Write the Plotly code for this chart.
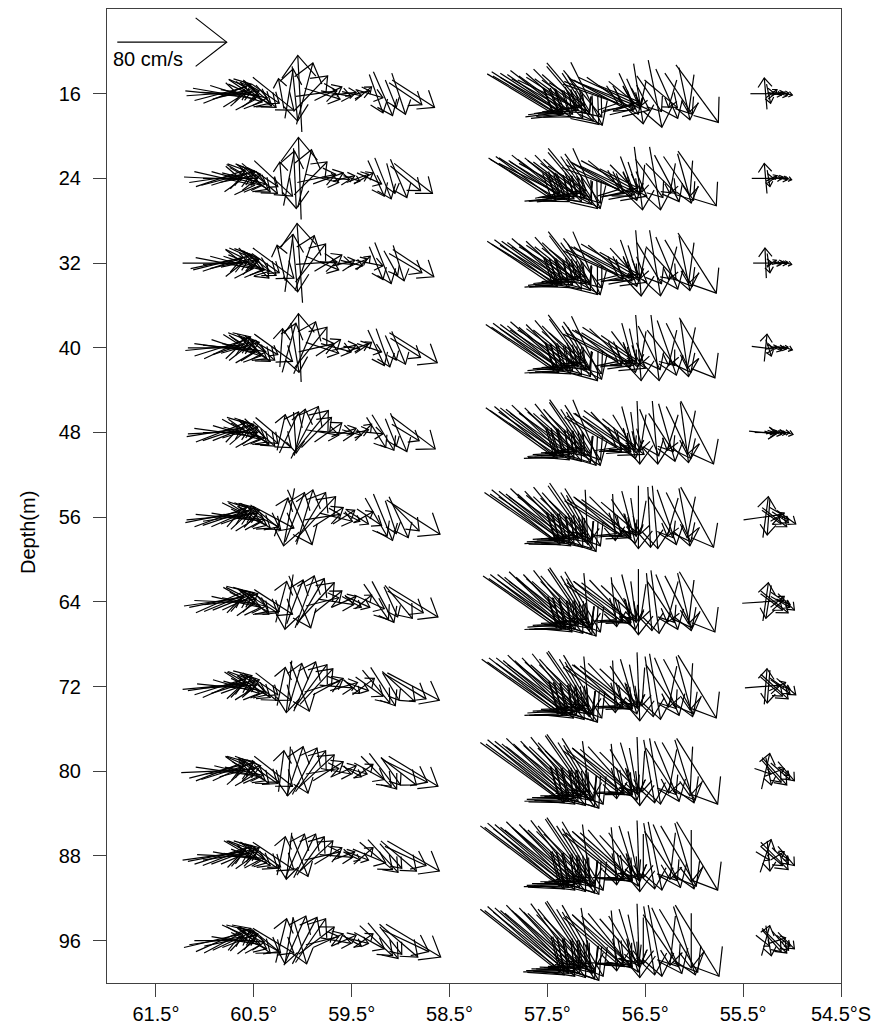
import math
import plotly.graph_objects as go

# Current vectors (u east-ward on the page, v up-ward; cm/s) along the transect
DEPTHS = [16, 24, 32, 40, 48, 56, 64, 72, 80, 88, 96]

LAT_WEST = [60.92, 60.88, 60.84, 60.80, 60.77, 60.74, 60.71, 60.68, 60.64, 60.60, 60.55, 60.50,
            60.44, 60.38, 60.30, 60.22, 60.14, 60.08, 60.03, 59.98, 59.92, 59.86, 59.80, 59.74,
            59.66, 59.58, 59.50, 59.44, 59.38, 59.32, 59.25, 59.18, 59.10, 59.02, 58.95, 58.87]
LAT_CENTRAL = [57.78, 57.75, 57.72, 57.69, 57.66, 57.63, 57.60, 57.57, 57.54, 57.51, 57.48, 57.45,
               57.42, 57.39, 57.36, 57.33, 57.30, 57.27, 57.24, 57.21, 57.18, 57.14, 57.10, 57.06,
               57.02, 56.98, 56.94, 56.90, 56.86, 56.82, 56.77, 56.72, 56.67, 56.62, 56.57, 56.52,
               56.46, 56.40, 56.34, 56.28, 56.22, 56.16, 56.10, 56.03, 55.97]
LAT_EAST = [55.30, 55.27, 55.24, 55.21, 55.18, 55.15, 55.12, 55.09, 55.06]

VEL_16 = [
    [40, -4], [44, 3], [38, 10], [46, -8], [35, 14], [42, -2], [30, 8], [38, -12], [28, 4], [34, -6], [30, -14], [26, -18],
    [24, -20], [20, -14], [30, -24], [-4, 22], [6, 36], [4, -40], [-3, 56], [12, 45], [25, 26], [30, 4], [26, -8], [20, 10],
    [22, -4], [18, 2], [14, -3], [18, 4], [12, 10], [20, -6], [10, -28], [14, -32], [8, -20], [10, -30], [24, -16], [31, -20],
    [48, -29], [44, -26], [50, -32], [42, -24], [46, -30], [40, -28], [38, -22], [44, -34], [36, -26], [42, -20], [34, -30], [38, -24],
    [30, -22], [36, -36], [28, -20], [32, -28], [26, -16], [34, -40], [38, -45], [20, -30], [16, -26], [28, -34], [23, -46], [40, -14],
    [44, -18], [36, -20], [48, -22], [40, -16], [34, -24], [52, -24], [30, -12], [22, -18], [14, -30], [10, -22], [7, -44], [-4, -18],
    [18, -26], [10, -49], [24, -20], [16, -36], [-6, -20], [20, -30], [8, -38], [-4, -28], [31, -42],
    [18, 0], [-2, 23], [3, -14], [8, 6], [10, -2], [9, 2], [10, -3], [8, 1], [9, -2],
]
VEL_24 = [
    [42, -2], [40, 6], [36, 12], [44, -10], [38, 10], [40, 0], [32, 10], [36, -10], [30, 6], [32, -8], [28, -16], [24, -20],
    [26, -22], [18, -12], [28, -26], [-2, 24], [8, 40], [2, -44], [-2, 60], [10, 42], [24, 24], [28, 6], [24, -6], [22, 8],
    [20, -2], [16, 4], [12, -4], [16, 6], [14, 8], [18, -8], [12, -26], [12, -30], [6, -22], [12, -28], [22, -18], [28, -22],
    [46, -30], [48, -28], [44, -32], [44, -22], [48, -30], [38, -26], [40, -24], [42, -34], [38, -28], [40, -22], [36, -30], [36, -26],
    [32, -24], [34, -34], [30, -22], [30, -28], [28, -18], [32, -38], [36, -44], [22, -32], [18, -28], [26, -36], [20, -44], [42, -16],
    [42, -20], [38, -22], [46, -24], [38, -18], [32, -26], [48, -26], [28, -14], [20, -20], [12, -32], [8, -24], [6, -46], [-2, -20],
    [20, -28], [8, -46], [22, -22], [18, -34], [-4, -22], [22, -32], [10, -36], [-2, -26], [28, -40],
    [16, 0], [-2, 22], [2, -12], [8, 4], [10, 0], [8, 2], [10, -2], [7, 0], [8, -2],
]
VEL_32 = [
    [44, 0], [38, 8], [40, 10], [42, -8], [36, 12], [40, 2], [34, 8], [38, -10], [28, 6], [30, -10], [30, -12], [22, -22],
    [24, -18], [20, -14], [30, -22], [-6, 26], [6, 42], [4, -42], [-4, 58], [14, 40], [22, 28], [30, 2], [24, -10], [20, 12],
    [24, -2], [16, 4], [16, -4], [14, 6], [10, 10], [20, -4], [10, -24], [12, -30], [10, -18], [8, -26], [24, -14], [30, -20],
    [48, -32], [46, -28], [46, -34], [42, -26], [44, -32], [40, -30], [38, -24], [42, -36], [36, -28], [40, -24], [34, -32], [38, -26],
    [30, -24], [34, -38], [28, -22], [32, -30], [26, -20], [30, -40], [36, -46], [22, -30], [16, -28], [28, -36], [20, -46], [40, -18],
    [42, -20], [36, -24], [46, -24], [38, -20], [32, -26], [48, -28], [28, -16], [20, -22], [12, -34], [8, -26], [4, -48], [-4, -22],
    [18, -30], [8, -48], [22, -24], [16, -38], [-6, -24], [20, -34], [8, -40], [-4, -30], [28, -44],
    [14, 0], [-1, 22], [2, -14], [7, 4], [9, -2], [8, 2], [9, -1], [7, 1], [8, -2],
]
VEL_40 = [
    [40, 4], [42, 0], [38, 12], [44, -6], [34, 16], [40, -4], [30, 10], [36, -12], [28, 8], [32, -6], [26, -16], [24, -20],
    [22, -18], [18, -10], [28, -20], [2, 28], [10, 36], [6, -36], [-2, 50], [16, 38], [24, 30], [26, 6], [24, -8], [18, 12],
    [22, -6], [18, 4], [12, -2], [16, 6], [12, 8], [18, -6], [12, -26], [10, -28], [8, -18], [10, -24], [22, -14], [35, -22],
    [50, -34], [46, -30], [48, -36], [42, -28], [46, -34], [40, -32], [40, -26], [44, -38], [36, -30], [42, -26], [34, -34], [38, -28],
    [32, -26], [34, -40], [28, -24], [32, -32], [26, -22], [30, -42], [36, -48], [20, -32], [16, -30], [28, -38], [22, -46], [40, -20],
    [42, -22], [34, -26], [44, -26], [36, -22], [30, -28], [46, -30], [26, -18], [18, -24], [10, -36], [6, -28], [4, -48], [-4, -24],
    [16, -32], [6, -48], [20, -26], [14, -40], [-6, -26], [18, -36], [6, -42], [-6, -30], [26, -44],
    [16, -2], [2, 20], [4, -12], [8, 2], [10, -4], [9, 0], [8, -2], [7, 1], [9, -3],
]
VEL_48 = [
    [38, 6], [42, 2], [36, 14], [44, -6], [36, 12], [40, 0], [30, 12], [34, -10], [26, 8], [30, -8], [26, -14], [22, -18],
    [22, -20], [18, -16], [26, -22], [6, 26], [14, 30], [2, -30], [8, 34], [20, 38], [26, 32], [22, 22], [24, -4], [20, 14],
    [26, -2], [18, 6], [14, -4], [16, 4], [12, 12], [20, -2], [14, -22], [16, -26], [8, -20], [12, -28], [20, -12], [32, -24],
    [50, -36], [48, -32], [46, -38], [44, -30], [46, -36], [42, -34], [40, -28], [42, -40], [38, -32], [40, -28], [36, -36], [36, -30],
    [32, -28], [34, -42], [30, -26], [30, -34], [26, -24], [30, -44], [34, -48], [22, -34], [18, -30], [26, -40], [20, -48], [38, -22],
    [40, -24], [34, -28], [42, -28], [34, -24], [28, -30], [44, -32], [24, -20], [16, -26], [10, -38], [4, -30], [2, -46], [-4, -26],
    [14, -34], [4, -46], [18, -28], [12, -42], [-8, -26], [18, -38], [6, -44], [-6, -32], [24, -46],
    [20, -2], [16, 0], [6, -2], [8, 2], [10, -3], [9, 1], [8, -2], [9, 0], [10, -3],
]
VEL_56 = [
    [40, 8], [44, 4], [38, 14], [42, -4], [36, 12], [40, 6], [32, 14], [36, -6], [28, 10], [30, -4], [26, -12], [24, -16],
    [28, -14], [22, -18], [30, -16], [10, 28], [-8, -42], [14, 36], [18, -40], [12, 40], [22, 36], [28, 30], [26, 4], [22, 14],
    [24, -6], [16, 10], [12, -6], [16, -10], [14, 8], [18, -12], [16, -28], [14, -34], [8, -24], [14, -30], [20, -20], [39, -25],
    [52, -36], [48, -34], [50, -40], [44, -30], [48, -38], [42, -34], [42, -30], [44, -42], [38, -34], [42, -30], [36, -38], [38, -32],
    [32, -30], [36, -44], [30, -28], [32, -36], [26, -24], [32, -46], [34, -50], [22, -36], [18, -32], [26, -42], [2, -40], [38, -24],
    [40, -26], [34, -28], [42, -30], [36, -26], [30, -30], [2, -34], [26, -22], [18, -26], [10, -38], [4, -28], [0, -46], [-4, -24],
    [2, -44], [4, -46], [18, -30], [14, -40], [-8, -28], [18, -36], [8, -42], [-6, -30], [24, -44],
    [28, 4], [4, 30], [-2, -26], [14, -10], [18, -14], [10, 6], [12, -8], [8, -4], [14, -10],
]
VEL_64 = [
    [42, 6], [40, 8], [36, 16], [44, -2], [34, 14], [38, 4], [30, 12], [36, -8], [26, 12], [32, -6], [28, -14], [22, -18],
    [26, -16], [20, -14], [28, -18], [8, 30], [-6, -40], [12, 32], [16, -38], [14, 38], [20, 34], [26, 28], [24, 6], [20, 16],
    [26, -4], [18, 8], [14, -8], [18, -8], [12, 10], [22, -10], [18, -26], [16, -30], [10, -22], [20, -24], [26, -16], [36, -22],
    [54, -38], [50, -34], [52, -40], [46, -32], [50, -40], [44, -36], [42, -30], [46, -44], [40, -36], [42, -32], [38, -40], [38, -34],
    [34, -30], [36, -46], [30, -30], [34, -38], [28, -26], [32, -48], [34, -50], [22, -38], [18, -34], [26, -44], [4, -42], [38, -26],
    [40, -28], [36, -30], [42, -30], [36, -28], [30, -32], [4, -36], [26, -24], [18, -28], [10, -40], [4, -30], [0, -48], [-4, -26],
    [4, -42], [6, -46], [20, -30], [16, -40], [-8, -30], [20, -38], [10, -42], [-4, -32], [26, -44],
    [30, 2], [4, 28], [-4, -24], [16, -12], [20, -16], [10, 8], [14, -8], [10, -4], [12, -12],
]
VEL_72 = [
    [44, 4], [42, 6], [38, 12], [40, -4], [36, 16], [38, 2], [32, 10], [34, -10], [28, 10], [30, -8], [26, -12], [24, -16],
    [24, -20], [18, -12], [26, -20], [6, 28], [-4, -38], [10, 34], [14, -36], [16, 36], [24, 32], [24, 26], [26, 8], [22, 12],
    [24, -2], [20, 6], [12, -10], [16, -6], [16, 12], [20, -14], [20, -24], [18, -28], [12, -20], [24, -22], [30, -18], [38, -20],
    [56, -40], [52, -36], [54, -42], [48, -34], [52, -42], [46, -38], [44, -32], [48, -46], [42, -38], [44, -34], [40, -42], [40, -36],
    [36, -32], [38, -48], [32, -32], [36, -40], [30, -28], [34, -50], [36, -52], [24, -40], [20, -36], [28, -46], [4, -44], [40, -28],
    [42, -30], [36, -32], [44, -32], [38, -30], [32, -34], [2, -38], [28, -26], [20, -30], [12, -40], [6, -32], [2, -50], [-2, -28],
    [6, -44], [8, -48], [22, -32], [18, -42], [-6, -30], [22, -40], [12, -44], [-2, -34], [28, -46],
    [26, 2], [2, 26], [-2, -24], [16, -14], [20, -18], [12, 6], [14, -10], [10, -4], [14, -12],
]
VEL_80 = [
    [46, 2], [40, 10], [36, 14], [42, -6], [38, 12], [36, 4], [30, 14], [32, -8], [30, 8], [28, -6], [24, -14], [22, -18],
    [26, -18], [20, -16], [28, -22], [4, 30], [-2, -36], [12, 36], [12, -32], [18, 34], [22, 30], [26, 24], [24, 4], [22, 14],
    [22, -4], [18, 8], [14, -8], [14, -4], [14, 10], [22, -12], [22, -22], [20, -26], [14, -20], [26, -20], [32, -16], [36, -22],
    [58, -42], [54, -40], [56, -46], [50, -38], [54, -44], [48, -40], [46, -36], [50, -48], [44, -40], [46, -36], [42, -44], [42, -38],
    [38, -36], [40, -50], [34, -34], [38, -42], [32, -30], [36, -52], [38, -54], [26, -42], [22, -38], [30, -48], [6, -44], [40, -30],
    [42, -32], [38, -34], [44, -34], [38, -32], [32, -36], [4, -40], [28, -28], [20, -32], [12, -42], [6, -34], [2, -50], [-2, -30],
    [8, -46], [8, -48], [22, -34], [18, -44], [-6, -32], [24, -42], [14, -46], [-2, -36], [30, -48],
    [12, -4], [6, 26], [4, -20], [14, -16], [18, -20], [10, 4], [14, -12], [8, -6], [12, -14],
]
VEL_88 = [
    [44, 6], [42, 8], [38, 12], [40, -2], [36, 14], [40, 6], [32, 12], [34, -6], [28, 12], [30, -4], [26, -10], [24, -14],
    [26, -18], [22, -16], [30, -20], [6, 28], [-4, -34], [14, 32], [12, -30], [16, 32], [20, 28], [24, 22], [26, 6], [20, 12],
    [24, -2], [16, 6], [12, -6], [16, -6], [14, 12], [24, -10], [24, -20], [22, -24], [16, -18], [26, -22], [30, -14], [38, -22],
    [58, -44], [56, -42], [56, -48], [52, -40], [54, -46], [50, -42], [48, -38], [50, -50], [46, -42], [46, -38], [44, -46], [42, -40],
    [40, -38], [40, -52], [36, -36], [38, -44], [34, -32], [36, -54], [38, -56], [28, -44], [24, -40], [30, -50], [6, -46], [40, -32],
    [42, -34], [38, -36], [44, -36], [38, -34], [32, -38], [4, -42], [28, -30], [22, -34], [14, -44], [8, -36], [2, -52], [0, -32],
    [8, -48], [10, -50], [24, -36], [20, -46], [-4, -34], [26, -44], [14, -48], [0, -38], [30, -50],
    [10, -6], [8, 24], [2, -22], [16, -14], [20, -20], [10, 6], [12, -12], [8, -6], [12, -14],
]
VEL_96 = [
    [42, 10], [40, 6], [36, 16], [44, 0], [34, 18], [38, 8], [30, 14], [36, -6], [26, 10], [30, -2], [26, -12], [24, -18],
    [28, -16], [22, -18], [30, -18], [8, 32], [-6, -34], [16, 36], [10, -34], [18, 34], [22, 32], [26, 20], [24, 6], [22, 10],
    [22, -4], [18, 8], [14, -8], [16, -4], [14, 10], [22, -12], [24, -22], [22, -26], [16, -20], [28, -24], [34, -16], [40, -24],
    [58, -46], [56, -44], [56, -50], [52, -42], [54, -48], [50, -44], [48, -40], [50, -52], [46, -44], [46, -40], [44, -48], [42, -42],
    [40, -40], [40, -54], [36, -38], [38, -46], [34, -34], [36, -56], [38, -58], [28, -46], [24, -42], [30, -52], [8, -48], [40, -34],
    [42, -36], [38, -38], [44, -38], [36, -36], [32, -40], [4, -44], [28, -32], [22, -36], [14, -46], [8, -38], [2, -54], [0, -34],
    [8, -50], [10, -52], [26, -38], [22, -48], [-4, -36], [28, -46], [16, -50], [0, -40], [32, -52],
    [10, -8], [6, 22], [4, -22], [14, -16], [18, -18], [12, 4], [12, -14], [10, -8], [12, -12],
]

REF_SPEED = 80          # cm/s, reference arrow
REF_LABEL = "80 cm/s"
X_TICKS = [61.5, 60.5, 59.5, 58.5, 57.5, 56.5, 55.5, 54.5]
X_TICKTEXT = ["61.5°", "60.5°", "59.5°", "58.5°", "57.5°", "56.5°", "55.5°", "54.5°S"]
Y_TITLE = "Depth(m)"

# ---- layout geometry -------------------------------------------------------
FIG_W, FIG_H = 885, 1025
M_L, M_R, M_T, M_B = 107, 44, 9, 42
X_RANGE = [62.0, 54.5]
Y_RANGE = [100.0, 8.0]
PLOT_W = FIG_W - M_L - M_R
PLOT_H = FIG_H - M_T - M_B
PX_PER_DEG = PLOT_W / abs(X_RANGE[0] - X_RANGE[1])
PX_PER_M = PLOT_H / abs(Y_RANGE[0] - Y_RANGE[1])
PX_PER_CMS = 109.4 / REF_SPEED      # arrow length in pixels per cm/s
HEAD_FRAC = 0.36
HEAD_ANG = math.radians(38)

xs, ys = [], []


def add_arrow(lat, depth, u, v, centred=True):
    """Append an arrow (shaft + head) for velocity (u, v) at (lat, depth)."""
    dx, dy = u * PX_PER_CMS, v * PX_PER_CMS           # pixel offsets, dy upward
    length = math.hypot(dx, dy)
    if length == 0:
        return
    if centred:
        tail = (-dx / 2, -dy / 2)
        tip = (dx / 2, dy / 2)
    else:
        tail = (0.0, 0.0)
        tip = (dx, dy)
    bx, by = -dx / length, -dy / length
    h = HEAD_FRAC * length
    arms = []
    for s in (1, -1):
        a = s * HEAD_ANG
        rx = bx * math.cos(a) - by * math.sin(a)
        ry = bx * math.sin(a) + by * math.cos(a)
        arms.append((tip[0] + h * rx, tip[1] + h * ry))

    def to_data(p):
        # x axis runs toward lower latitude on the right; depth grows downward
        return lat - p[0] / PX_PER_DEG, depth - p[1] / PX_PER_M

    for seq in ([tail, tip], [arms[0], tip, arms[1]]):
        for p in seq:
            X, Y = to_data(p)
            xs.append(X)
            ys.append(Y)
        xs.append(None)
        ys.append(None)


LATS = LAT_WEST + LAT_CENTRAL + LAT_EAST
VELOCITIES = {16: VEL_16, 24: VEL_24, 32: VEL_32, 40: VEL_40, 48: VEL_48, 56: VEL_56,
              64: VEL_64, 72: VEL_72, 80: VEL_80, 88: VEL_88, 96: VEL_96}

for d in DEPTHS:
    for lat, (u, v) in zip(LATS, VELOCITIES[d]):
        add_arrow(lat, d, u, v)

# reference arrow in the upper-left corner
REF_LAT, REF_DEPTH = 61.895, 11.13
add_arrow(REF_LAT, REF_DEPTH, REF_SPEED, 0, centred=False)

FONT = "Liberation Sans, Arial, Helvetica, sans-serif"

fig = go.Figure()
fig.add_trace(go.Scatter(
    x=xs, y=ys, mode="lines",
    line=dict(color="black", width=1.2),
    hoverinfo="skip", showlegend=False,
))

fig.add_annotation(
    x=61.955, y=12.68, xref="x", yref="y",
    text=REF_LABEL, showarrow=False,
    xanchor="left", yanchor="middle",
    font=dict(family=FONT, size=20, color="black"),
)

# vertical axis title
fig.add_annotation(
    x=-0.1076, y=0.462, xref="paper", yref="paper",
    text=Y_TITLE, showarrow=False, textangle=-90,
    xanchor="center", yanchor="middle",
    font=dict(family=FONT, size=20, color="black"),
)

axis_common = dict(
    showgrid=False, zeroline=False, automargin=False,
    showline=True, mirror=True, linecolor="#404040", linewidth=1,
    ticks="outside", ticklen=13, tickwidth=1, tickcolor="#404040",
    tickfont=dict(family=FONT, size=20, color="black"),
)

fig.update_layout(
    width=FIG_W, height=FIG_H,
    margin=dict(l=M_L, r=M_R, t=M_T, b=M_B, pad=0, autoexpand=False),
    paper_bgcolor="white", plot_bgcolor="white",
    xaxis=dict(range=X_RANGE, tickvals=X_TICKS, ticktext=X_TICKTEXT,
               ticklabelstandoff=0, **axis_common),
    yaxis=dict(range=Y_RANGE, tickvals=DEPTHS, ticktext=[str(d) for d in DEPTHS],
               ticklabelstandoff=8, **axis_common),
)

fig.write_html("out.html")
